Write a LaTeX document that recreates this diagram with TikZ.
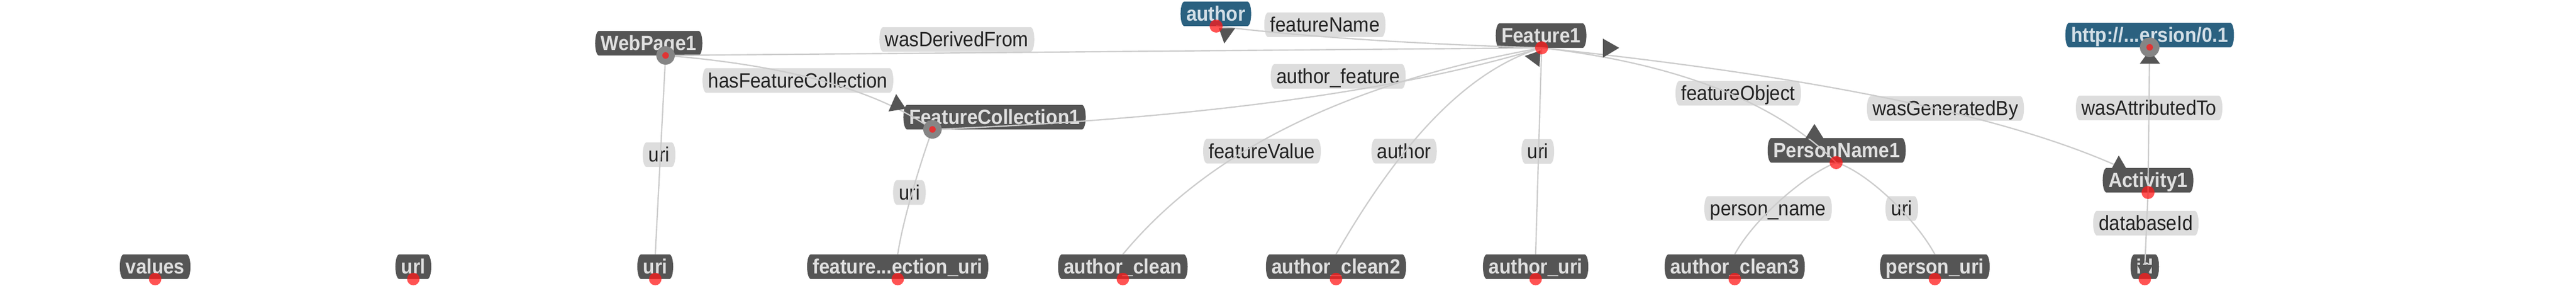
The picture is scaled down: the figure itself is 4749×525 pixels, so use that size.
\documentclass[tikz,border=0pt]{standalone}
\usepackage{fontspec}
\setmainfont[FakeStretch=0.92]{Liberation Sans}
\pgfdeclarelayer{bg}
\pgfdeclarelayer{fg}
\pgfsetlayers{bg,main,fg}
\definecolor{nodegray}{HTML}{555555}
\definecolor{nodeblue}{HTML}{2B6180}
\definecolor{nodetext}{HTML}{E0E0E0}
\definecolor{bluetext}{HTML}{D3DFE7}
\definecolor{labelbg}{HTML}{DDDDDD}
\definecolor{labeltext}{HTML}{222222}
\definecolor{edgecol}{HTML}{CCCCCC}
\definecolor{arrowcol}{HTML}{555555}
\definecolor{ringcol}{HTML}{858585}
\definecolor{dotred}{HTML}{FF1A1A}
\newcommand\barrelfill[2]{%
  \fill[#2] (#1.north west) -- (#1.north east)
    .. controls ([xshift=10pt]#1.north east) and ([xshift=10pt]#1.south east) .. (#1.south east)
    -- (#1.south west)
    .. controls ([xshift=-10pt]#1.south west) and ([xshift=-10pt]#1.north west) .. (#1.north west) -- cycle;}
\begin{document}
\begin{tikzpicture}[x=1pt,y=-1pt,
  base/.style={inner xsep=3pt, inner ysep=5.5pt, text height=30pt, text depth=4pt},
  ent/.style={base, text=nodetext, font=\fontsize{38}{42}\selectfont\bfseries},
  bent/.style={base, text=bluetext, font=\fontsize{38}{42}\selectfont\bfseries},
  lab/.style={base, text=labeltext, font=\fontsize{38}{42}\selectfont},
  edge/.style={draw=edgecol, line width=2.4pt},
  arrowhd/.style={fill=arrowcol},
  reddot/.style={fill=dotred, fill opacity=0.75},
  ring/.style={fill=ringcol}]
\useasboundingbox (0,0) rectangle (4749,525);
% dot positions
\coordinate (dWeb) at (1227,102);
\coordinate (dFC) at (1719,238);
\coordinate (dAuthor) at (2242,48);
\coordinate (dFeat) at (2842,88);
\coordinate (dHttp) at (3963,87);
\coordinate (dPN) at (3385,299);
\coordinate (dAct) at (3960,354);
\coordinate (genEnd) at (3903,305);
% entity nodes
\node[ent]  (web)    at (1196,79.5)   {WebPage1};
\node[bent] (author) at (2241.5,25.5) {author};
\node[ent]  (feat)   at (2841,65.5)   {Feature1};
\node[bent] (http)   at (3963,64.5)   {http://...ersion/0.1};
\node[ent]  (fc)     at (1833.5,215.5) {FeatureCollection1};
\node[ent]  (pn)     at (3386,276.5)  {PersonName1};
\node[ent]  (act)    at (3960,331.5)  {Activity1};
% bottom row
\node[ent] (values) at (286,490.5)  {values};
\node[ent] (url)    at (762,490.5)  {url};
\node[ent] (uriN)   at (1208,490.5) {uri};
\node[ent] (fcuri)  at (1655,490.5) {feature...ection\_uri};
\node[ent] (ac)     at (2070,490.5) {author\_clean};
\node[ent] (ac2)    at (2463,490.5) {author\_clean2};
\node[ent] (auri)   at (2831,490.5) {author\_uri};
\node[ent] (ac3)    at (3198,490.5) {author\_clean3};
\node[ent] (puri)   at (3567,490.5) {person\_uri};
\node[ent] (idn)    at (3954,490.5) {id};
% edge labels
\node[lab] (lDerived) at (1764,72.5)   {wasDerivedFrom};
\node[lab] (lHasFC)   at (1471,148)    {hasFeatureCollection};
\node[lab] (lFName)   at (2442.5,45.5) {featureName};
\node[lab] (lAFeat)   at (2467,140.5)  {author\_feature};
\node[lab] (lFValue)  at (2326.5,278)  {featureValue};
\node[lab] (lAuthor)  at (2588.5,278)  {author};
\node[lab] (lUriA)    at (2835,278.5)  {uri};
\node[lab] (lFObj)    at (3204.5,171.5) {featureObject};
\node[lab] (lGen)     at (3586.5,199.5) {wasGeneratedBy};
\node[lab] (lAttr)    at (3962,198.5)  {wasAttributedTo};
\node[lab] (lPName)   at (3259.5,383.5) {person\_name};
\node[lab] (lUriP)    at (3506,383.5)  {uri};
\node[lab] (lUriFC)   at (1676.5,354)  {uri};
\node[lab] (lUriW)    at (1215,284.5)  {uri};
\node[lab] (lDb)      at (3956,410.5)  {databaseId};
% shapes behind texts
\begin{pgfonlayer}{bg}
  \fill[white] (0,0) rectangle (4749,525);
  \foreach \n in {web,feat,fc,pn,act,values,url,uriN,fcuri,ac,ac2,auri,ac3,puri,idn}
    {\barrelfill{\n}{nodegray}}
  \foreach \n in {author,http}
    {\barrelfill{\n}{nodeblue}}
  \foreach \n in {lDerived,lHasFC,lFName,lAFeat,lFValue,lAuthor,lUriA,lFObj,lGen,lAttr,lPName,lUriP,lUriFC,lUriW,lDb}
    {\barrelfill{\n}{labelbg}}
\end{pgfonlayer}
% connectors (drawn over nodes, as in the reference)
\draw[edge] (dWeb) -- (dFeat);
\draw[edge] (dWeb) .. controls (1451,120) and (1615,165) .. (dFC);
\draw[edge] (dFC) .. controls (2198,219) and (2573,169) .. (dFeat);
\draw[edge] (dFeat) .. controls (2614,81) and (2417,69) .. (dAuthor);
\draw[edge] (dFeat) .. controls (2479,153) and (2226,280) .. (ac.north);
\draw[edge] (dFeat) .. controls (2710,127) and (2586,254) .. (ac2.north);
\draw[edge] (dFeat) -- (auri.north);
\draw[edge] (dFeat) .. controls (3093,117) and (3274,188) .. (dPN);
\draw[edge] (dFeat) .. controls (3338,140) and (3689,210) .. (genEnd);
\draw[edge] (dAct) -- (dHttp);
\draw[edge] (dAct) -- (idn.center);
\draw[edge] (dPN) .. controls (3330,320) and (3235,400) .. (ac3.north);
\draw[edge] (dPN) .. controls (3440,315) and (3530,400) .. (puri.north);
\draw[edge] (dFC) .. controls (1700,290) and (1665,400) .. (fcuri.north);
\draw[edge] (dWeb) -- (uriN.north);
% arrowheads, rings and dots
\begin{pgfonlayer}{fg}
  \fill[arrowhd] (2247,52) -- (2277,52) -- (2257,80) -- cycle;
  \fill[arrowhd] (2811,103) -- (2840,93) -- (2838,123) -- cycle;
  \fill[arrowhd] (2955,71) -- (2985,88) -- (2955,106) -- cycle;
  \fill[arrowhd] (1652,173) -- (1638,205) -- (1670,200) -- cycle;
  \fill[arrowhd] (3345,228) -- (3328,255) -- (3362,255) -- cycle;
  \fill[arrowhd] (3906,286) -- (3893,310) -- (3920,310) -- cycle;
  \fill[arrowhd] (3963,92) -- (3945,117) -- (3982,117) -- cycle;
  \fill[arrowhd] (3940,487) -- (3969,487) -- (3954,513) -- cycle;
  \fill[ring] (dWeb) circle[radius=17pt];
  \fill[ring] (dFC) circle[radius=17pt];
  \fill[ring] (dHttp) circle[radius=18pt];
  \fill[reddot] (dWeb) circle[radius=6pt];
  \fill[reddot] (dFC) circle[radius=6pt];
  \fill[reddot] (dHttp) circle[radius=6pt];
  \foreach \c in {dAuthor,dFeat,dPN,dAct}
    {\fill[reddot] (\c) circle[radius=12pt];}
  \foreach \n in {values,url,uriN,fcuri,ac,ac2,auri,ac3,puri,idn}
    {\fill[reddot] (\n.south) circle[radius=11.5pt];}
\end{pgfonlayer}
\end{tikzpicture}
\end{document}
